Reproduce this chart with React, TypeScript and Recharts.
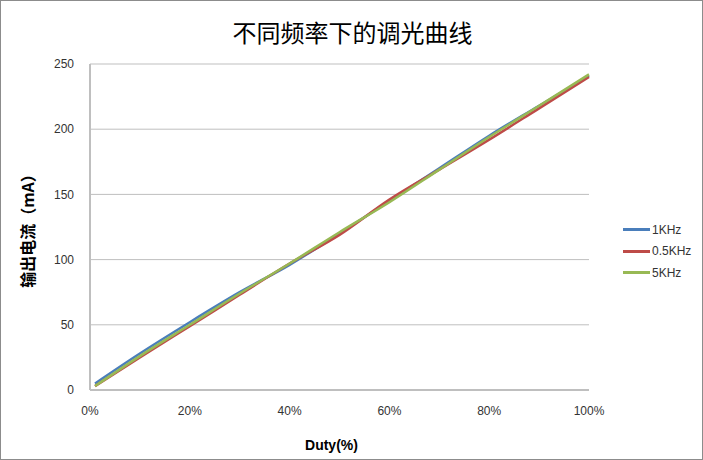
import React from "react";
import { LineChart, Line, XAxis, YAxis, CartesianGrid, Label } from "recharts";

const duty = [0.01, 0.1, 0.2, 0.3, 0.4, 0.5, 0.6, 0.7, 0.8, 0.9, 1.0];
const khz1 = [5, 28, 52, 75, 96, 120, 145, 170, 195, 218, 241];
const khz05 = [3, 25, 49, 73, 97, 119, 146, 169, 192, 216, 240];
const khz5 = [3, 26, 50, 74, 97, 121, 144, 169, 194, 218, 242];
const xTicks = [0, 0.2, 0.4, 0.6, 0.8, 1];
const yTicks = [0, 50, 100, 150, 200, 250];
const seriesNames = ["1KHz", "0.5KHz", "5KHz"];
const seriesColors = ["#4a7ebb", "#be4b48", "#98b954"];

const data = duty.map((d, i) => ({ duty: d, a: khz1[i], b: khz05[i], c: khz5[i] }));

const tickStyle = { fill: "#333", fontSize: 12, fontFamily: "Liberation Sans, Arial, sans-serif" };

function LegendBox() {
  return (
    <div
      style={{
        position: "absolute",
        left: 622,
        top: 218,
        fontSize: 12,
        fontFamily: "Liberation Sans, Arial, sans-serif",
        color: "#333",
      }}
    >
      {seriesNames.map((n, i) => (
        <div key={n} style={{ display: "flex", alignItems: "center", height: 21.5 }}>
          <span style={{ display: "inline-block", width: 27, height: 3, background: seriesColors[i], marginRight: 2 }} />
          <span>{n}</span>
        </div>
      ))}
    </div>
  );
}

export default function App() {
  return (
    <div
      style={{
        position: "fixed",
        left: 0,
        top: 0,
        width: 703,
        height: 460,
        boxSizing: "border-box",
        border: "1px solid #8c8c8c",
        background: "#fff",
      }}
    >
      <div
        style={{
          position: "absolute",
          left: 0,
          width: 703,
          top: 13,
          textAlign: "center",
          fontSize: 24,
          fontFamily: "Noto Sans CJK SC, sans-serif",
          color: "#000",
        }}
      >
        不同频率下的调光曲线
      </div>
      <div style={{ position: "absolute", left: -1, top: -1 }}>
        <LineChart width={703} height={460} data={data} margin={{ top: 64, right: 114, bottom: 40, left: 30 }}>
          <CartesianGrid vertical={false} stroke="#bfbfbf" />
          <XAxis
            dataKey="duty"
            type="number"
            domain={[0, 1]}
            ticks={xTicks}
            tickFormatter={(v: number) => `${Math.round(v * 100)}%`}
            tick={tickStyle}
            tickLine={false}
            tickMargin={10}
            axisLine={{ stroke: "#bfbfbf", strokeWidth: 2 }}
            height={30}
          >
            <Label
              value="Duty(%)"
              position="insideBottom"
              offset={-30}
              dx={-8}
              style={{ fontWeight: "bold", fontSize: 14, fill: "#000", fontFamily: "Liberation Sans, Arial, sans-serif" }}
            />
          </XAxis>
          <YAxis
            type="number"
            domain={[0, 250]}
            ticks={yTicks}
            tick={tickStyle}
            tickLine={false}
            tickMargin={10}
            axisLine={{ stroke: "#bfbfbf", strokeWidth: 2 }}
            width={60}
          >
            <Label
              value="输出电流（mA）"
              angle={-90}
              position="insideLeft"
              offset={-2}
              style={{ textAnchor: "middle", fontWeight: "bold", fontSize: 16, fill: "#000", fontFamily: "Noto Sans CJK SC, sans-serif" }}
            />
          </YAxis>
          <Line type="monotone" dataKey="a" name="1KHz" stroke="#4a7ebb" strokeWidth={2.5} dot={false} isAnimationActive={false} />
          <Line type="monotone" dataKey="b" name="0.5KHz" stroke="#be4b48" strokeWidth={2.5} dot={false} isAnimationActive={false} />
          <Line type="monotone" dataKey="c" name="5KHz" stroke="#98b954" strokeWidth={2.5} dot={false} isAnimationActive={false} />
        </LineChart>
      </div>
      <LegendBox />
    </div>
  );
}
